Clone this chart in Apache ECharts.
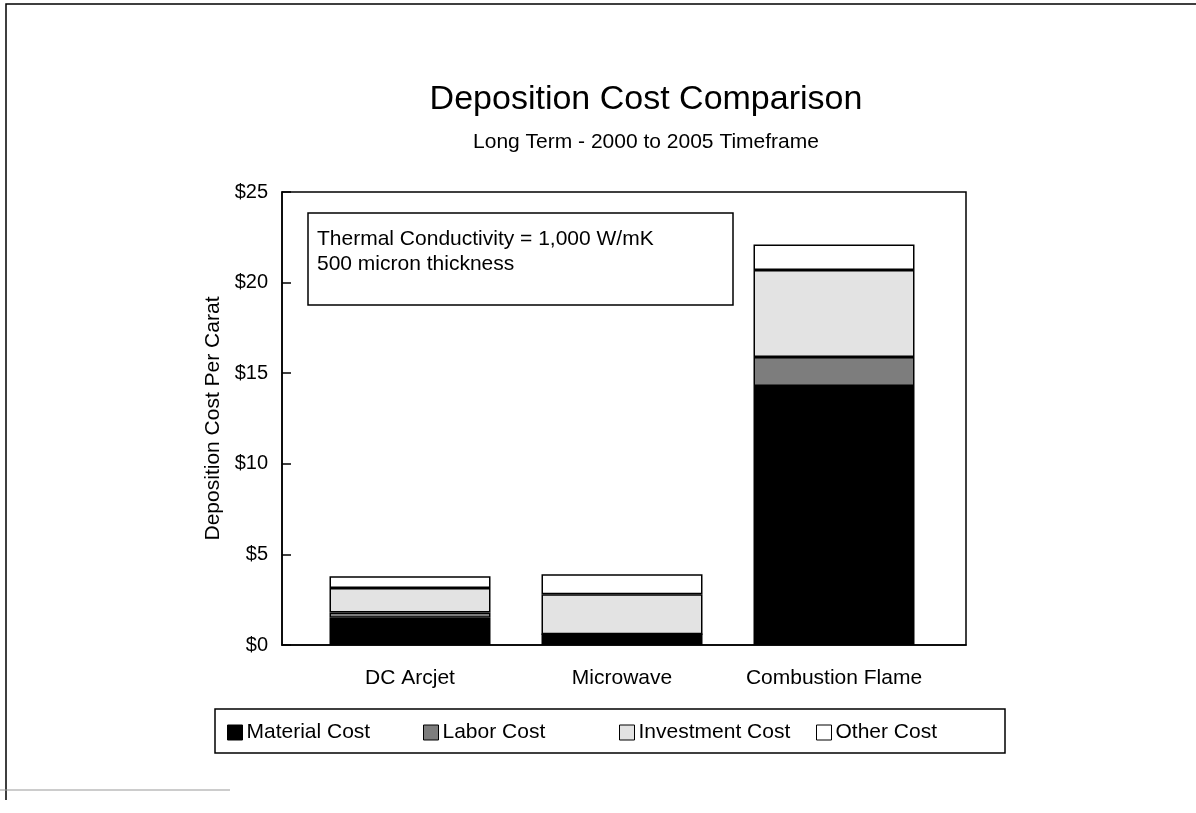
<!DOCTYPE html>
<html>
<head>
<meta charset="utf-8">
<script src="https://cdn.jsdelivr.net/npm/echarts@6/dist/echarts.min.js"></script>
<style>
html,body{margin:0;padding:0;background:#fff;}
#c{width:1196px;height:813px;}
</style>
</head>
<body>
<div id="c"></div>
<script>
const categories = ["DC Arcjet", "Microwave", "Combustion Flame"];
const seriesNames = ["Material Cost", "Labor Cost", "Investment Cost", "Other Cost"];
const materialCost = [1.5, 0.6, 14.3];
const laborCost = [0.3, 0, 1.6];
const investmentCost = [1.35, 2.2, 4.8];
const otherCost = [0.65, 1.1, 1.4];
const yTicks = [0, 5, 10, 15, 20, 25];
const titleText = "Deposition Cost Comparison";
const subtitleText = "Long Term - 2000 to 2005 Timeframe";
const noteLines = ["Thermal Conductivity = 1,000 W/mK", "500 micron thickness"];
const yAxisName = "Deposition Cost Per Carat";

const FONT = "Liberation Sans, Arial, Helvetica, sans-serif";
const fills = ["#000000", "#7d7d7d", "#e3e3e3", "#ffffff"];
const values = [materialCost, laborCost, investmentCost, otherCost];

const chart = echarts.init(document.getElementById('c'), null, {renderer: 'canvas'});

const legendLefts = [227, 423, 619, 816];
const legends = seriesNames.map((n, i) => ({
  data: [{name: n, icon: 'rect'}],
  left: legendLefts[i],
  top: 722,
  itemWidth: 15,
  itemHeight: 15,
  itemGap: 0,
  padding: 0,
  selectedMode: false,
  textStyle: {fontFamily: FONT, fontSize: 21, color: '#000', padding: [0,0,0,-1]},
  itemStyle: {borderColor: '#000', borderWidth: 1}
}));

const gridTop = 192, gridBottom = 168;

const option = {
  backgroundColor: '#fff',
  animation: false,
  title: [
    {text: titleText, left: 641, top: 78, textAlign: 'center',
     textStyle: {fontFamily: FONT, fontSize: 34, fontWeight: 'normal', color: '#000'}},
    {text: subtitleText, left: 641, top: 127, textAlign: 'center',
     textStyle: {fontFamily: FONT, fontSize: 21, fontWeight: 'normal', color: '#000'}}
  ],
  legend: legends,
  grid: [
    {left: 282, right: 230, top: gridTop, bottom: gridBottom, show: true, borderColor: '#000', borderWidth: 1.5, backgroundColor: 'transparent'},
    {left: 304, right: 256, top: gridTop, bottom: gridBottom, show: false}
  ],
  xAxis: [
    {
      type: 'category', gridIndex: 0, data: categories,
      axisLine: {lineStyle: {color: '#000', width: 1.5}},
      axisTick: {show: false},
      axisLabel: {show: false}
    },
    {
      type: 'category', gridIndex: 1, data: categories,
      axisLine: {show: false},
      axisTick: {show: false},
      axisLabel: {interval: 0, hideOverlap: false, fontFamily: FONT, fontSize: 21, color: '#000', margin: 23}
    }
  ],
  yAxis: [
    {
      type: 'value', gridIndex: 0,
      min: 0, max: 25, interval: 5,
      name: yAxisName,
      nameLocation: 'middle',
      nameGap: 54,
      nameTextStyle: {fontFamily: FONT, fontSize: 21, color: '#000'},
      axisLine: {show: true, lineStyle: {color: '#000', width: 1.5}},
      axisTick: {show: true, inside: true, length: 9, lineStyle: {color: '#000', width: 1.5}},
      splitLine: {show: false},
      axisLabel: {fontFamily: FONT, fontSize: 20, color: '#000', margin: 14,
        formatter: v => yTicks.includes(v) ? '$' + v : ''}
    },
    {
      type: 'value', gridIndex: 1,
      min: 0, max: 25, interval: 5,
      axisLine: {show: false}, axisTick: {show: false}, axisLabel: {show: false}, splitLine: {show: false}
    }
  ],
  series: seriesNames.map((n, i) => ({
    name: n,
    type: 'bar',
    stack: 'total',
    xAxisIndex: 1,
    yAxisIndex: 1,
    barWidth: 161,
    data: values[i],
    itemStyle: {color: fills[i], borderColor: '#000', borderWidth: 1.5}
  })),
  graphic: [
    {type: 'polyline', shape: {points: [[6, 800], [6, 4], [1196, 4]]}, style: {stroke: '#000', lineWidth: 1.5, fill: null}},
    {type: 'line', shape: {x1: 0, y1: 790, x2: 230, y2: 790}, style: {stroke: '#999', lineWidth: 1}},
    {type: 'rect', shape: {x: 308, y: 213, width: 425, height: 92}, style: {fill: '#fff', stroke: '#000', lineWidth: 1.5}, z: 100},
    {type: 'text', left: 317, top: 227, z: 101, style: {text: noteLines.join('\n'), font: '21px ' + FONT, fill: '#000', lineHeight: 25}},
    {type: 'rect', shape: {x: 215, y: 709, width: 790, height: 44}, style: {fill: null, stroke: '#000', lineWidth: 1.5}, z: 100}
  ]
};
chart.setOption(option);
</script>
</body>
</html>
